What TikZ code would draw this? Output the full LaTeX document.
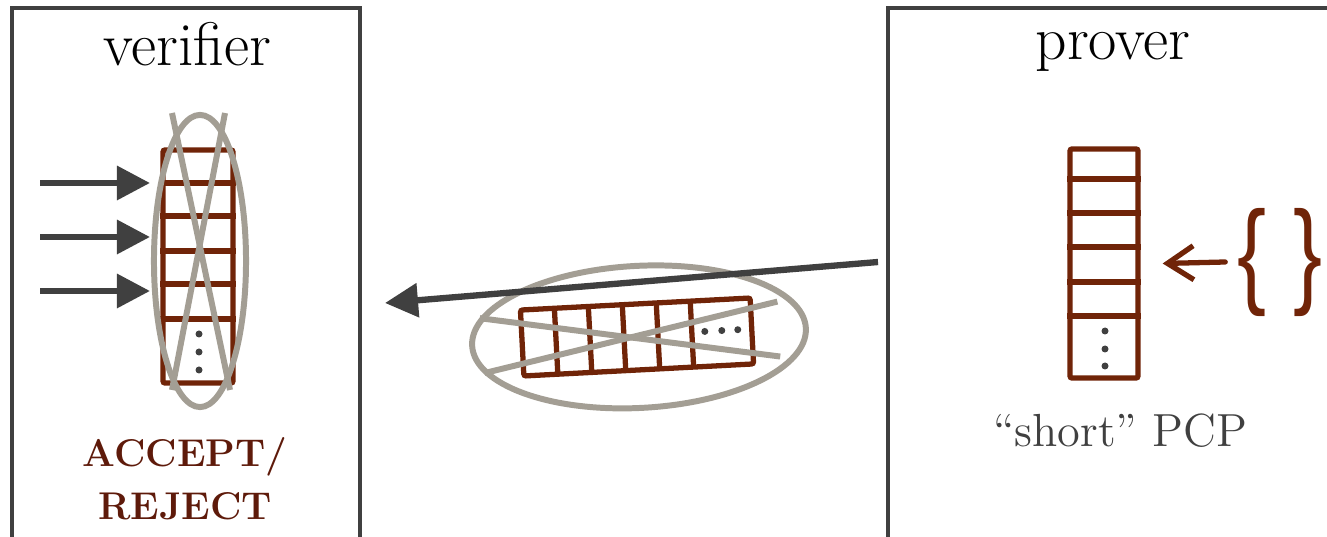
\documentclass[tikz,border=0pt]{standalone}
\usepackage{fontspec}
\usepackage{graphicx}
\usepackage{tikz}
\usetikzlibrary{arrows.meta, positioning, calc}
\newfontfamily\bracefont{Liberation Sans}
\definecolor{brick}{RGB}{112,36,8}
\definecolor{darkbrick}{RGB}{94,26,10}
\definecolor{stone}{RGB}{163,158,148}
\definecolor{slate}{RGB}{64,64,64}

\begin{document}
\begin{tikzpicture}[x=0.01cm, y=-0.01cm,
  panel/.style={draw=slate, line width=1.15pt},
  tape/.style={draw=brick, line width=1.5pt, rounded corners=0.6pt, inner sep=0pt},
  rung/.style={brick, line width=1.5pt},
  strike/.style={stone, line width=1.7pt},
  query/.style={slate, line width=1.8pt, -{Triangle[length=3.3mm, width=3.3mm]}},
  title/.style={anchor=base, font=\fontsize{17.5}{20}\selectfont}]
  \useasboundingbox (0,0) rectangle (1327,537);

  % verifier
  \draw[panel] (12,560) |- (360,8) -- (360,560);
  \node[title] (vname) at (187,66) {verifier};
  \node[tape, minimum width=0.7cm, minimum height=2.33cm] (vtape) at (198,266.5) {};
  \foreach \y in {183,216,251,284,319}
    \draw[rung] (vtape.west |- 0,\y) -- (vtape.east |- 0,\y);
  \foreach \y in {334,352,370}
    \fill[slate] (199,\y) circle (0.35mm);
  \draw[strike] (200,261) ellipse [x radius=0.46cm, y radius=1.46cm];
  \draw[strike] (172,113) -- (230,390);
  \draw[strike] (225,113) -- (172,390);
  \foreach \y [count=\i] in {183,237,291} {
    \coordinate (src\i) at (40,\y);
    \coordinate (hit\i) at (150,\y);
    \draw[query] (src\i) -- (hit\i);
  }
  \node[anchor=base, text=darkbrick, font=\bfseries\fontsize{11}{13}\selectfont] (accept) at (185,467) {ACCEPT/};
  \node[anchor=base, text=darkbrick, font=\bfseries\fontsize{11}{13}\selectfont] (reject) at (185,520) {REJECT};

  % crossed-out proof in transit
  \begin{scope}[shift={(637,337)}, rotate=3]
    \draw[rung, rounded corners=0.6pt] (-115,-33) rectangle (115,33);
    \foreach \x in {-81,-47,-13,21,55}
      \draw[rung] (\x,-33) -- (\x,33);
    \foreach \x in {68,85,101}
      \fill[slate] (\x,-2) circle (0.35mm);
    \draw[strike] (2,0) ellipse [x radius=1.67cm, y radius=0.71cm];
    \draw[strike] (-156,-27) -- (142,27);
    \draw[strike] (-154,28) -- (142,-28);
  \end{scope}
  \coordinate (send) at (878,262);
  \coordinate (recv) at (385,303);
  \draw[query] (send) -- (recv);

  % prover
  \draw[panel] (888,560) |- (1340,8);
  \node[title] (pname) at (1113,60) {prover};
  \node[tape, minimum width=0.68cm, minimum height=2.29cm] (ptape) at (1104,263.5) {};
  \foreach \y in {179,213,247,282,316}
    \draw[rung] (ptape.west |- 0,\y) -- (ptape.east |- 0,\y);
  \foreach \y in {331,349,366}
    \fill[slate] (1105,\y) circle (0.35mm);
  \node[text=brick, inner sep=0pt, font=\bracefont\fontsize{33}{33}\selectfont] (ext) at (1280,262)
    {\scalebox{0.75}[1]{\{}\hspace{2.6mm}\scalebox{0.75}[1]{\}}};
  \draw[brick, line width=1.5pt, line cap=round, -{Straight Barb[length=2.6mm, width=3.4mm]}]
    ([xshift=-1.2mm]ext.west) -- ([xshift=2.2mm]ptape.east);
  \node[anchor=base, text=slate, font=\fontsize{13.2}{15}\selectfont] (pcp) at (1120,447) {``short'' PCP};
\end{tikzpicture}
\end{document}
